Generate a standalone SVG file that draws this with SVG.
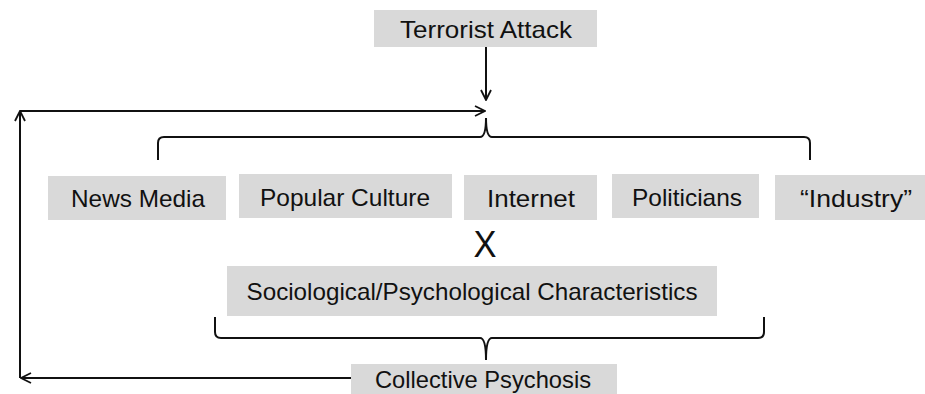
<svg xmlns="http://www.w3.org/2000/svg" width="925" height="394" viewBox="0 0 925 394">
<style>
.box{fill:#d9d9d9}
.t{font-family:"Liberation Sans",Arial,sans-serif;font-size:24px;fill:#111;text-anchor:middle}
.ln{fill:none;stroke:#111;stroke-width:2}
</style>
<defs>
<marker id="ah" viewBox="0 0 12 12" refX="11" refY="6" markerWidth="12" markerHeight="12" markerUnits="userSpaceOnUse" orient="auto">
<path d="M1,1 L11,6 L1,11" fill="none" stroke="#111" stroke-width="1.8"/>
</marker>
</defs>
<rect width="925" height="394" fill="#fff"/>
<g id="connectors">
<line class="ln" x1="486" y1="47" x2="486" y2="100" marker-end="url(#ah)"/>
<path class="ln" d="M351,378 L21,378" marker-end="url(#ah)"/>
<path class="ln" d="M20,378 L20,111" marker-end="url(#ah)"/>
<path class="ln" d="M20,111 L485,111" marker-end="url(#ah)"/>
<path class="ln" d="M158,160 L158,143 Q158,137 164,137 L480,137 Q486,137 486,118 Q486,137 492,137 L804,137 Q810,137 810,143 L810,160"/>
<path class="ln" d="M215,317 L215,332 Q215,338 221,338 L480,338 Q486,338 486,360 Q486,338 492,338 L758,338 Q764,338 764,332 L764,317"/>
</g>
<g id="terrorist"><rect class="box" x="374" y="10" width="223" height="37"/><text class="t" x="486" y="38" textLength="172" lengthAdjust="spacingAndGlyphs">Terrorist Attack</text></g>
<g id="news"><rect class="box" x="48" y="176" width="178" height="44"/><text class="t" x="138" y="207" textLength="134" lengthAdjust="spacingAndGlyphs">News Media</text></g>
<g id="popular"><rect class="box" x="239" y="174" width="213" height="44"/><text class="t" x="345" y="206" textLength="170" lengthAdjust="spacingAndGlyphs">Popular Culture</text></g>
<g id="internet"><rect class="box" x="464" y="175" width="133" height="45"/><text class="t" x="531" y="207" textLength="88" lengthAdjust="spacingAndGlyphs">Internet</text></g>
<g id="politicians"><rect class="box" x="612" y="174" width="147" height="44"/><text class="t" x="687" y="206" textLength="110" lengthAdjust="spacingAndGlyphs">Politicians</text></g>
<g id="industry"><rect class="box" x="775" y="175" width="150" height="45"/><text class="t" x="856" y="207" textLength="112" lengthAdjust="spacingAndGlyphs">“Industry”</text></g>
<g id="x"><text class="t" x="485" y="257" style="font-size:37px" textLength="23" lengthAdjust="spacingAndGlyphs">X</text></g>
<g id="socio"><rect class="box" x="227" y="266" width="490" height="50"/><text class="t" x="472" y="300" textLength="451" lengthAdjust="spacingAndGlyphs">Sociological/Psychological Characteristics</text></g>
<g id="collective"><rect class="box" x="351" y="364" width="266" height="30"/><text class="t" x="483" y="388" textLength="216" lengthAdjust="spacingAndGlyphs">Collective Psychosis</text></g>
</svg>
